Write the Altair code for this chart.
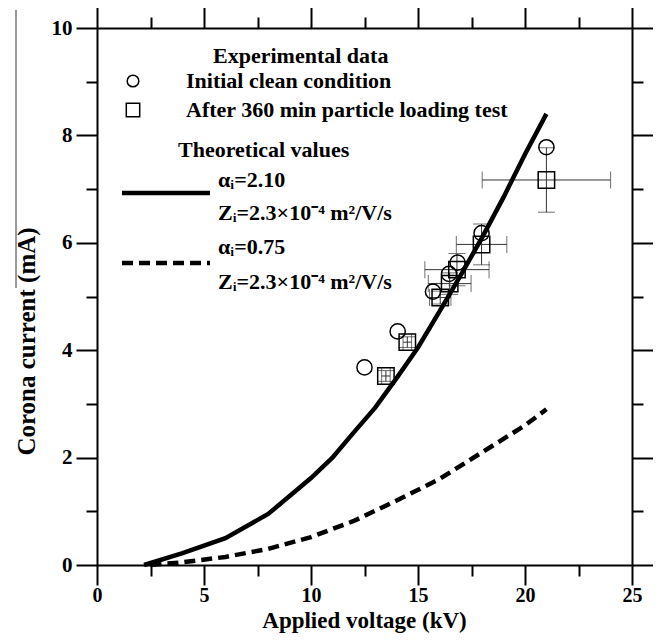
import altair as alt
import pandas as pd

# ---- Experimental data: initial clean condition (circles)
clean_v = [12.5, 14.05, 15.7, 16.45, 16.85, 17.97, 21.0]
clean_i = [3.68, 4.35, 5.09, 5.42, 5.63, 6.18, 7.78]

# ---- After 360 min particle loading test (squares, with error bars)
load_v = [13.5, 14.5, 16.04, 16.48, 16.82, 17.97, 21.0]
load_i = [3.52, 4.15, 4.98, 5.24, 5.50, 5.97, 7.17]
load_v_err = [0.2, 0.2, 0.5, 1.0, 1.5, 1.18, 3.0]
load_i_err = [0.1, 0.1, 0.12, 0.2, 0.3, 0.38, 0.6]

# ---- Theoretical values
th1_v = [2.2, 4, 6, 8, 10, 11, 12, 13, 14, 15, 16, 17, 18, 19, 20, 21]
th1_i = [0, 0.22, 0.5, 0.95, 1.62, 2.0, 2.47, 2.93, 3.48, 4.05, 4.72, 5.4, 6.1, 6.85, 7.65, 8.4]
th2_v = [2.5, 4, 6, 8, 10, 12, 14, 16, 18, 20, 21]
th2_i = [0, 0.05, 0.15, 0.3, 0.52, 0.82, 1.2, 1.6, 2.1, 2.6, 2.9]

# ---- Axis ticks
x_major = [0, 5, 10, 15, 20, 25]
x_minor = [2.5, 7.5, 12.5, 17.5, 22.5]
y_major = [0, 2, 4, 6, 8, 10]
y_minor = [1, 3, 5, 7, 9]

# ---- Texts
x_title = "Applied voltage (kV)"
y_title = "Corona current (mA)"
leg_exp = "Experimental data"
leg_clean = "Initial clean condition"
leg_load = "After 360 min particle loading test"
leg_theo = "Theoretical values"
leg_a1 = "\u03b1\u1d62=2.10"
leg_a2 = "\u03b1\u1d62=0.75"
leg_z = "Z\u1d62=2.3\u00d710\u207b\u2074 m\u00b2/V/s"

FONT = "Liberation Serif"
W, H = 535, 537

clean_df = pd.DataFrame({"v": clean_v, "i": clean_i})
load_df = pd.DataFrame({"v": load_v, "i": load_i, "ve": load_v_err, "ie": load_i_err})
load_df["vlo"] = load_df["v"] - load_df["ve"]
load_df["vhi"] = load_df["v"] + load_df["ve"]
load_df["ilo"] = load_df["i"] - load_df["ie"]
load_df["ihi"] = load_df["i"] + load_df["ie"]
th1_df = pd.DataFrame({"v": th1_v, "i": th1_i})
th2_df = pd.DataFrame({"v": th2_v, "i": th2_i})

xscale = alt.Scale(domain=[0, 25], nice=False, zero=False)
yscale = alt.Scale(domain=[0, 10], nice=False, zero=False)

ax_common = dict(
    domainColor="black", domainWidth=2, tickColor="black", tickWidth=2, grid=False,
    labelFont=FONT, labelFontWeight="bold", labelColor="black",
    titleFont=FONT, titleFontWeight="bold", titleFontSize=25, titleColor="black",
    labelOverlap=False, labelFlush=False,
)
MAJ = 21
MIN = 11


def minor_axis(orient, vals):
    return alt.Axis(orient=orient, values=vals, title=None, labels=False, domain=False,
                    tickSize=MIN, **ax_common)


x_bottom = alt.Axis(orient="bottom", values=x_major, title=None, tickSize=20,
                    labelPadding=0, labelFontSize=20, **ax_common)
y_left = alt.Axis(orient="left", values=y_major, title=y_title, tickSize=MAJ,
                  labelPadding=4, labelFontSize=21, titleX=-58, titleY=313, **ax_common)
x_top = alt.Axis(orient="top", values=x_major, title=None, labels=False, tickSize=MAJ, **ax_common)
y_right = alt.Axis(orient="right", values=y_major, title=None, labels=False, tickSize=MAJ, **ax_common)


def carrier(xa, ya):
    return alt.Chart(th1_df).mark_point(opacity=0).encode(
        x=alt.X("v:Q", scale=xscale, axis=xa),
        y=alt.Y("i:Q", scale=yscale, axis=ya),
    )


axes_layers = [
    carrier(x_bottom, y_left),
    carrier(x_top, y_right),
    carrier(minor_axis("bottom", x_minor), minor_axis("left", y_minor)),
    carrier(minor_axis("top", x_minor), minor_axis("right", y_minor)),
]

X = lambda f: alt.X(f, type="quantitative", scale=xscale, axis=None)
Y = lambda f: alt.Y(f, type="quantitative", scale=yscale, axis=None)

err_col = "#333333"
CAP = 17
h_err = alt.Chart(load_df).mark_rule(color=err_col, strokeWidth=1).encode(
    x=X("vlo"), x2="vhi", y=Y("i"))
v_err = alt.Chart(load_df).mark_rule(color=err_col, strokeWidth=1).encode(
    x=X("v"), y=Y("ilo"), y2="ihi")
cap_vlo = alt.Chart(load_df).mark_tick(orient="vertical", size=CAP, thickness=1, color=err_col).encode(
    x=X("vlo"), y=Y("i"))
cap_vhi = alt.Chart(load_df).mark_tick(orient="vertical", size=CAP, thickness=1, color=err_col).encode(
    x=X("vhi"), y=Y("i"))
cap_ilo = alt.Chart(load_df).mark_tick(orient="horizontal", size=CAP, thickness=1, color=err_col).encode(
    x=X("v"), y=Y("ilo"))
cap_ihi = alt.Chart(load_df).mark_tick(orient="horizontal", size=CAP, thickness=1, color=err_col).encode(
    x=X("v"), y=Y("ihi"))

squares = alt.Chart(load_df).mark_point(shape="square", filled=False, size=270, color="black",
                                        strokeWidth=1.5, opacity=1).encode(x=X("v"), y=Y("i"))
circles = alt.Chart(clean_df).mark_point(shape="circle", filled=False, size=230, color="black",
                                         strokeWidth=1.5, opacity=1).encode(x=X("v"), y=Y("i"))

line1 = alt.Chart(th1_df).mark_line(color="black", strokeWidth=4.5).encode(x=X("v"), y=Y("i"))
line2 = alt.Chart(th2_df).mark_line(color="black", strokeWidth=4.5, strokeDash=[11, 6]).encode(
    x=X("v"), y=Y("i"))

one = pd.DataFrame({"t": [0]})
LEG = 22


def txt(s, x, y, size=LEG, align="left", baseline="middle"):
    return alt.Chart(pd.DataFrame({"t": [s]})).mark_text(
        align=align, baseline=baseline, font=FONT, fontSize=size, fontWeight="bold", color="black"
    ).encode(x=alt.value(x), y=alt.value(y), text="t:N")


# x-axis title as a text layer, just under the tick labels
xtitle_layer = txt(x_title, W / 2, 600, size=23, align="center", baseline="alphabetic")

legend = [
    txt(leg_exp, 116, 28),
    alt.Chart(one).mark_point(shape="circle", filled=False, size=135, color="black", strokeWidth=1.5,
                              opacity=1).encode(x=alt.value(36), y=alt.value(53)),
    txt(leg_clean, 89, 53),
    alt.Chart(one).mark_point(shape="square", filled=False, size=180, color="black", strokeWidth=1.5,
                              opacity=1).encode(x=alt.value(36), y=alt.value(82)),
    txt(leg_load, 89, 82),
    txt(leg_theo, 81, 122),
    alt.Chart(one).mark_rule(color="black", strokeWidth=4.5).encode(
        x=alt.value(25), x2=alt.value(113), y=alt.value(165)),
    txt(leg_a1, 121, 152),
    txt(leg_z, 121, 185),
    alt.Chart(one).mark_rule(color="black", strokeWidth=4.5, strokeDash=[11, 6]).encode(
        x=alt.value(25), x2=alt.value(113), y=alt.value(235)),
    txt(leg_a2, 121, 219),
    txt(leg_z, 121, 254),
]

artifact = alt.Chart(one).mark_rule(color="#777777", strokeWidth=1.5).encode(
    x=alt.value(-81), y=alt.value(-18), y2=alt.value(260))

chart = alt.layer(
    *axes_layers, h_err, v_err, cap_vlo, cap_vhi, cap_ilo, cap_ihi,
    squares, circles, line1, line2, artifact, xtitle_layer, *legend
).resolve_axis(x="independent", y="independent").properties(
    width=W, height=H,
    autosize=alt.AutoSizeParams(type="none"),
    padding={"left": 89, "top": 20, "right": 21, "bottom": 68},
    background="white",
).configure_view(stroke=None)

chart.save("out.html", embed_options={"renderer": "svg", "actions": False})
